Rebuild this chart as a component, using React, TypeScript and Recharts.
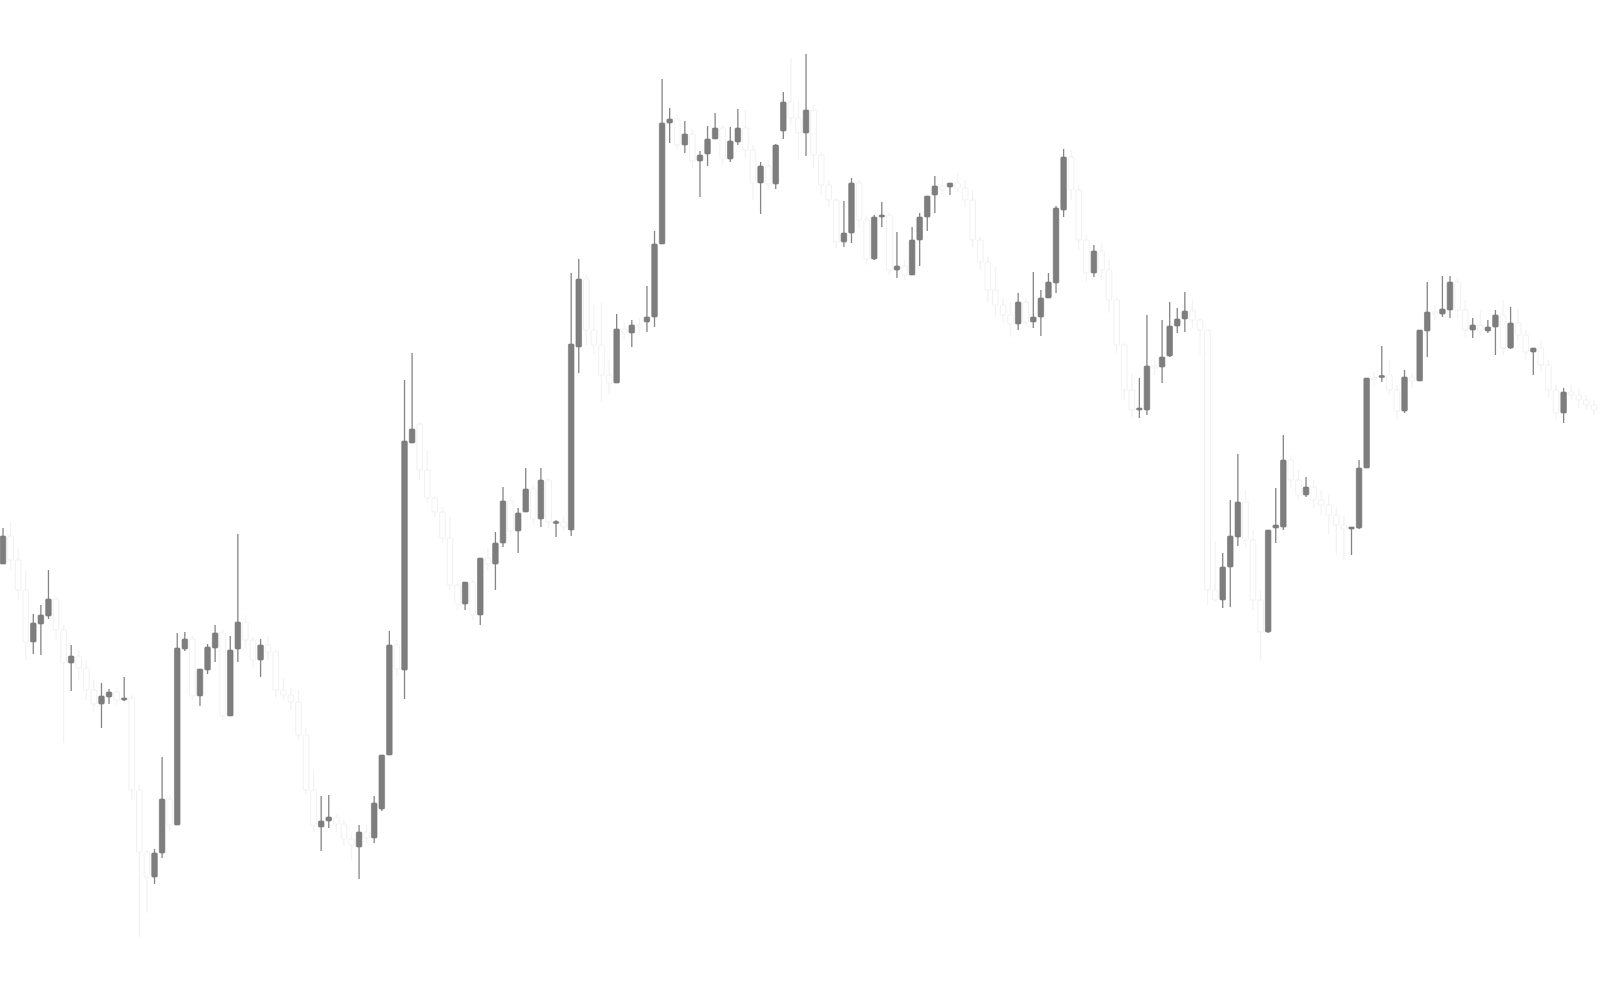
import React from 'react';
import { ComposedChart, Bar, XAxis, YAxis } from 'recharts';

// OHLC values (one entry per session, left to right)
const opens = [
  43.6, 46.4, 44.0, 41.0, 35.8, 37.6, 38.4, 40.1, 37.0, 33.7,
  34.4, 33.2, 31.0, 29.6, 30.3, 30.8, 30.0, 30.2, 21.0, 14.8,
  12.3, 14.7, 20.1, 17.5, 35.1, 36.1, 30.4, 33.0, 35.2, 36.7,
  28.4, 35.1, 37.8, 36.0, 34.0, 35.5, 34.8, 31.0, 30.5, 29.8,
  26.5, 21.0, 17.3, 17.9, 18.3, 17.6, 16.1, 15.3, 16.8, 16.2,
  19.1, 24.5, 35.5, 33.0, 55.7, 57.6, 53.0, 50.2, 48.8, 46.2,
  41.5, 39.6, 41.8, 38.5, 44.2, 43.6, 45.7, 49.9, 46.9, 48.8,
  51.1, 48.1, 52.0, 47.7, 47.8, 47.0, 65.3, 72.1, 67.0, 65.5,
  62.5, 61.7, 67.1, 66.7, 67.5, 67.8, 68.3, 75.6, 87.7, 88.1,
  85.5, 86.6, 83.9, 84.6, 86.1, 87.2, 84.1, 85.8, 87.2, 85.0,
  81.7, 83.4, 81.6, 86.9, 89.8, 88.2, 86.7, 89.0, 84.5, 81.5,
  80.0, 75.8, 76.7, 81.7, 78.0, 74.1, 78.3, 78.5, 73.0, 73.4,
  72.5, 76.0, 78.3, 80.5, 81.4, 81.3, 81.7, 81.2, 80.0, 76.0,
  73.8, 71.0, 69.5, 68.5, 67.6, 69.8, 67.8, 68.3, 70.2, 71.7,
  79.0, 84.3, 81.0, 76.0, 72.7, 74.9, 73.0, 70.0, 65.5, 61.0,
  59.0, 59.0, 63.4, 63.3, 64.4, 67.4, 68.1, 68.9, 68.0, 67.0,
  41.0, 40.0, 43.3, 46.3, 49.8, 46.0, 40.0, 36.8, 47.2, 47.3,
  54.0, 52.0, 50.5, 51.3, 50.0, 49.5, 48.5, 47.5, 47.1, 47.2,
  53.2, 62.2, 62.25, 62.5, 61.0, 58.9, 62.3, 61.9, 66.9, 68.8,
  68.6, 69.0, 71.8, 69.0, 67.0, 67.5, 66.9, 67.3, 68.5, 65.2,
  67.7, 66.5, 64.8, 65.2, 63.5, 61.0, 58.7, 60.8, 60.5, 60.0,
  59.5,
];

const highs = [
  47.2, 47.8, 45.2, 43.0, 38.6, 39.5, 43.0, 40.4, 37.5, 35.5,
  35.0, 34.0, 32.0, 31.7, 31.1, 31.2, 32.3, 30.5, 21.5, 15.0,
  15.1, 24.3, 20.5, 36.7, 36.8, 36.4, 33.1, 35.6, 37.5, 37.0,
  36.4, 46.6, 38.5, 36.4, 36.1, 36.4, 35.0, 32.2, 31.2, 31.0,
  27.2, 23.0, 20.4, 20.5, 18.6, 18.0, 16.6, 17.5, 17.5, 20.4,
  24.5, 36.9, 36.0, 62.0, 64.7, 57.8, 55.0, 50.4, 49.3, 48.3,
  41.7, 41.8, 42.0, 44.2, 45.2, 46.8, 51.3, 50.2, 49.2, 53.2,
  51.5, 53.2, 52.2, 48.0, 48.4, 72.7, 74.1, 72.5, 69.5, 69.7,
  64.0, 68.6, 67.8, 68.0, 68.2, 71.4, 76.9, 92.1, 89.2, 88.5,
  87.9, 87.0, 84.9, 87.4, 88.7, 87.5, 87.3, 89.1, 89.0, 85.5,
  83.8, 84.0, 85.6, 90.8, 94.2, 90.0, 94.6, 89.5, 84.8, 82.0,
  80.2, 79.9, 82.2, 82.0, 78.5, 78.5, 79.8, 78.8, 76.8, 74.0,
  77.3, 78.7, 80.4, 82.4, 82.2, 81.7, 82.7, 82.0, 81.0, 76.3,
  74.3, 73.3, 70.3, 69.7, 70.7, 70.2, 72.8, 71.0, 72.7, 79.4,
  85.1, 85.0, 81.5, 76.5, 75.5, 75.7, 74.0, 70.2, 65.7, 62.7,
  62.2, 68.5, 64.0, 68.0, 69.8, 69.2, 70.8, 70.0, 68.2, 67.0,
  45.8, 44.7, 50.0, 54.6, 51.0, 47.0, 41.0, 47.0, 51.2, 56.5,
  54.5, 53.0, 52.3, 52.0, 51.0, 50.5, 49.2, 48.5, 47.3, 54.0,
  62.2, 62.8, 65.4, 64.0, 61.5, 63.0, 62.7, 67.0, 71.8, 69.5,
  72.4, 72.4, 72.2, 70.0, 68.2, 69.0, 68.0, 69.0, 70.0, 69.3,
  69.0, 67.0, 65.2, 66.0, 64.0, 61.5, 61.2, 61.5, 61.2, 60.5,
  60.0,
];

const lows = [
  43.6, 43.0, 40.0, 34.0, 34.6, 34.5, 38.1, 36.0, 25.7, 30.9,
  32.0, 30.0, 28.8, 27.2, 29.6, 29.5, 29.9, 20.0, 6.3, 8.7,
  11.6, 14.2, 17.0, 17.5, 34.9, 30.0, 29.4, 32.6, 33.8, 28.0,
  28.4, 33.8, 35.2, 33.2, 32.3, 34.0, 30.2, 30.0, 29.0, 26.0,
  20.5, 16.8, 14.9, 17.2, 16.8, 15.4, 14.0, 12.1, 15.7, 15.7,
  18.9, 24.5, 32.4, 30.1, 55.7, 52.0, 49.7, 48.3, 45.7, 41.0,
  39.0, 39.0, 38.0, 37.5, 43.0, 41.0, 45.3, 46.5, 44.7, 48.8,
  47.5, 47.3, 47.2, 46.3, 46.9, 46.4, 62.7, 65.5, 64.5, 59.8,
  60.5, 61.7, 66.0, 65.3, 66.5, 66.8, 67.3, 75.6, 85.7, 85.0,
  84.7, 83.2, 80.3, 83.4, 86.1, 83.5, 83.8, 85.5, 84.2, 80.0,
  78.6, 81.0, 81.1, 86.1, 87.5, 84.0, 84.4, 83.2, 80.5, 79.3,
  75.2, 75.3, 75.7, 77.2, 73.5, 74.0, 77.3, 72.5, 72.2, 72.0,
  72.5, 73.4, 76.9, 78.7, 80.5, 80.5, 80.8, 79.3, 75.3, 73.0,
  69.7, 68.3, 67.7, 66.3, 67.0, 67.5, 67.2, 66.4, 70.2, 70.7,
  78.3, 80.0, 75.0, 71.8, 72.3, 72.0, 68.7, 64.7, 60.0, 58.3,
  58.2, 58.5, 62.5, 61.7, 64.3, 66.7, 66.8, 67.2, 64.5, 39.5,
  39.8, 39.2, 39.3, 45.4, 45.2, 39.0, 34.0, 36.7, 45.7, 47.0,
  51.2, 50.0, 50.3, 49.2, 48.5, 46.5, 44.5, 44.0, 44.5, 47.1,
  53.2, 61.5, 61.8, 60.5, 58.0, 58.7, 61.2, 61.9, 64.3, 68.0,
  68.3, 68.2, 68.2, 66.3, 66.2, 66.5, 66.7, 64.5, 64.5, 65.1,
  66.0, 64.0, 62.5, 62.8, 60.2, 58.0, 57.7, 60.0, 59.2, 59.0,
  58.5,
];

const closes = [
  46.4, 44.0, 41.0, 35.8, 37.7, 38.5, 40.1, 37.0, 33.7, 34.4,
  33.2, 31.0, 29.6, 30.4, 30.8, 30.0, 30.2, 21.0, 14.8, 12.3,
  14.7, 20.1, 17.5, 35.2, 36.1, 30.4, 33.1, 35.3, 36.7, 28.4,
  35.0, 37.8, 36.0, 34.0, 35.5, 34.8, 31.0, 30.5, 29.8, 26.5,
  21.0, 17.4, 17.9, 18.3, 17.6, 16.1, 15.5, 16.8, 16.2, 19.7,
  24.5, 35.5, 33.1, 55.9, 57.1, 53.0, 50.2, 48.8, 46.2, 41.5,
  39.6, 41.8, 38.5, 44.2, 43.6, 45.7, 49.9, 46.9, 48.7, 51.1,
  48.1, 52.0, 47.8, 47.8, 47.3, 65.6, 72.1, 67.0, 65.5, 62.5,
  61.7, 67.1, 66.7, 67.5, 67.3, 68.3, 75.6, 87.7, 88.1, 85.5,
  86.6, 83.9, 84.5, 86.1, 87.2, 84.1, 85.9, 87.2, 85.0, 81.7,
  83.4, 81.6, 85.5, 89.8, 88.2, 86.7, 89.0, 84.5, 81.5, 80.0,
  75.8, 76.7, 81.7, 78.0, 74.1, 78.3, 78.5, 73.0, 73.4, 72.5,
  76.0, 78.3, 80.4, 81.4, 81.0, 81.7, 81.2, 80.0, 76.0, 73.8,
  71.0, 69.5, 68.5, 67.6, 69.8, 67.8, 68.3, 70.2, 71.8, 79.2,
  84.3, 81.0, 76.0, 72.7, 74.9, 73.0, 70.0, 65.5, 61.0, 59.0,
  59.2, 63.4, 63.2, 64.3, 67.4, 68.1, 68.9, 68.0, 67.0, 41.0,
  40.0, 43.3, 46.4, 49.8, 46.0, 40.0, 36.8, 47.0, 47.5, 54.0,
  52.0, 50.5, 51.3, 50.0, 49.5, 48.5, 47.5, 47.1, 47.3, 53.2,
  62.2, 62.1, 62.45, 61.0, 58.9, 62.3, 61.9, 67.0, 68.8, 68.6,
  69.1, 71.8, 69.0, 67.0, 67.5, 66.9, 67.3, 68.5, 65.2, 67.7,
  66.5, 64.8, 65.2, 63.5, 61.0, 58.7, 60.8, 60.5, 60.0, 59.5,
  59.0,
];

const sessions = opens.map((_, i) => `S${i + 1}`);

const UP_FILL = '#7e7e7e';
const UP_EDGE = '#767676';
const UP_WICK = '#858585';
const DOWN_FILL = '#ffffff';
const DOWN_EDGE = '#f1f1f1';
const DOWN_WICK = '#f3f3f3';

const data = sessions.map((s, i) => ({
  session: s,
  open: opens[i],
  high: highs[i],
  low: lows[i],
  close: closes[i],
}));

const Candle = (props: any) => {
  const { x, y, width, height, payload } = props;
  if (!payload || x == null || y == null) return null;
  const { open, close, high, low } = payload;
  const up = close >= open;
  const range = high - low;
  const toY = (v: number) => (range > 0 ? y + ((high - v) / range) * height : y);
  const cx = x + width / 2;
  const top = toY(Math.max(open, close));
  const bottom = toY(Math.min(open, close));
  const bw = 5.6;
  const bh = Math.max(bottom - top, 2);
  const by = bottom - top < 2 ? (top + bottom) / 2 - 1 : top;
  return (
    <g>
      <line
        x1={cx}
        x2={cx}
        y1={y}
        y2={y + height}
        stroke={up ? UP_WICK : DOWN_WICK}
        strokeWidth={1.3}
      />
      <rect
        x={cx - bw / 2}
        y={by}
        width={bw}
        height={bh}
        rx={1}
        fill={up ? UP_FILL : DOWN_FILL}
        stroke={up ? UP_EDGE : DOWN_EDGE}
        strokeWidth={up ? 0.6 : 1}
      />
    </g>
  );
};

export default function App() {
  return (
    <div style={{ position: 'absolute', left: 0, top: 0, width: 1600, height: 1000, background: '#ffffff' }}>
      <ComposedChart
        width={1600}
        height={1000}
        data={data}
        margin={{ top: 0, right: 2.5, bottom: 0, left: -1 }}
      >
        <XAxis dataKey="session" hide padding={{ left: 0, right: 0 }} />
        <YAxis hide domain={[0, 100]} allowDataOverflow />
        <Bar
          dataKey={(d: any) => [d.low, d.high]}
          shape={<Candle />}
          isAnimationActive={false}
          barSize={6}
        />
      </ComposedChart>
    </div>
  );
}
